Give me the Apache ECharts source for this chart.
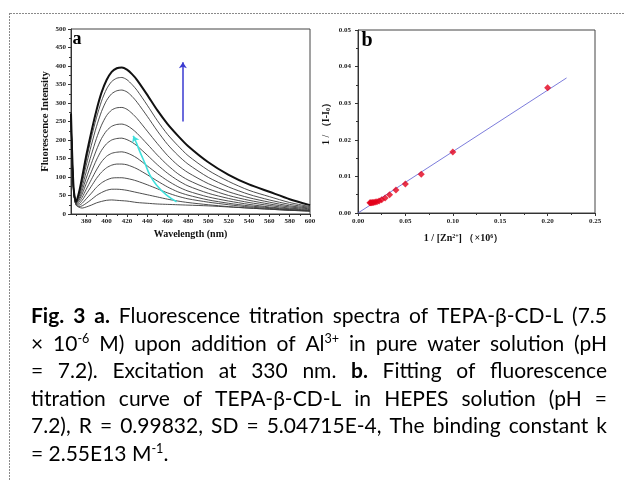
<!DOCTYPE html>
<html><head><meta charset="utf-8">
<script src="https://cdn.jsdelivr.net/npm/echarts@6/dist/echarts.min.js"></script>
<style>html,body{margin:0;padding:0;background:#fff}#c{width:624px;height:481px}</style>
</head><body><div id="c"></div>
<script>
// ---------- Panel a data (wavelength in nm, fluorescence intensity) ----------
const wavelength = [365,366,367,368,370,373,376,380,385,390,395,400,405,410,415,420,425,430,440,450,460,470,480,500,520,540,560,580,600];
const spectrum01 = [252,155,85,48,24,18,16,19,24,30,34,37,38,37,36,35,33,31,29,27,26,25,24,22,19,16,13,10,8];
const spectrum02 = [254,157,86,49,25,20,22,29,39,50,58,64,67,67,66,64,61,58,52,46,40,35,31,25,20,16,13,10,8];
const spectrum03 = [256,159,88,50,26,24,29,41,56,72,84,92,97,98,98,96,93,89,79,68,57,48,41,32,25,19,15,11,8];
const spectrum04 = [258,161,89,51,27,28,37,54,75,96,113,125,132,135,135,133,128,122,106,89,73,60,51,38,29,22,17,12,9];
const spectrum05 = [260,163,91,52,28,33,45,67,93,119,141,156,164,167,168,165,159,151,130,109,90,74,62,46,35,26,19,14,10];
const spectrum06 = [262,165,92,53,29,38,54,82,114,146,172,190,200,204,205,201,194,184,159,133,110,91,76,56,42,31,23,16,12];
const spectrum07 = [264,167,94,54,30,42,63,97,136,173,204,225,237,242,243,239,230,218,189,159,132,109,92,68,50,37,27,19,14];
const spectrum08 = [266,169,95,55,31,47,73,114,160,204,240,266,281,287,288,283,272,258,224,190,158,132,112,82,60,44,32,22,16];
const spectrum09 = [268,171,97,56,32,52,84,132,186,236,277,307,325,333,335,330,318,302,264,224,188,159,135,99,73,53,38,26,18];
const spectrum10 = [270,173,98,57,33,56,92,146,206,260,305,338,358,367,369,363,350,334,294,252,215,185,158,118,88,64,47,31,20];
const spectrum11 = [272,175,100,58,33,60,100,158,222,280,328,362,384,394,396,390,378,362,322,280,243,212,184,140,106,80,60,40,24];
const spectra = [spectrum01,spectrum02,spectrum03,spectrum04,spectrum05,spectrum06,spectrum07,spectrum08,spectrum09,spectrum10,spectrum11];
const waveTicks = [380,400,420,440,460,480,500,520,540,560,580,600];
const waveMinorTicks = [370,390,410,430,450,470,490,510,530,550,570,590];
// arrows (data coordinates)
const blueArrowX = [475, 475];
const blueArrowY = [250, 410];
const cyanX = [468.8, 459, 449.2, 442.6, 437.7, 432.8, 428.9];
const cyanY = [33, 51, 78, 105, 137, 168, 195];
const cyanHeadX = [428.9, 426.2];
const cyanHeadY = [195, 211];

// ---------- Panel b data ----------
const invConc = [0.0125,0.0133,0.0143,0.0154,0.0167,0.0182,0.0200,0.0222,0.0250,0.0286,0.0333,0.0400,0.0500,0.0667,0.1000,0.2000];
const invDeltaI = [0.0028,0.0028,0.0028,0.0029,0.0029,0.0030,0.0031,0.0033,0.0036,0.0041,0.0050,0.0063,0.0079,0.0106,0.0167,0.0342];
const fitX = [0, 0.22];
const fitY = [0, 0.0369];

// ---------- Caption ----------
const captionLines = [
  "**Fig. 3 a.** Fluorescence titration spectra of TEPA-β-CD-L (7.5",
  "× 10^{-6} M) upon addition of Al^{3+} in pure water solution (pH",
  "= 7.2). Excitation at 330 nm. **b.** Fitting of fluorescence",
  "titration curve of TEPA-β-CD-L in HEPES solution (pH =",
  "7.2), R = 0.99832, SD = 5.04715E-4, The binding constant k",
  "= 2.55E13 M^{-1}."
];

const SERIF = '"Liberation Serif","Times New Roman",serif';
const CAP_FONT = 'Lato';

const chart = echarts.init(document.getElementById('c'), null, {renderer: 'canvas'});

const tickLabel = {fontFamily: SERIF, fontWeight: 'bold', fontSize: 7, color: '#222'};
const axisLineStyle = {lineStyle: {color: '#333', width: 1}};

const series = [];
spectra.forEach((s, i) => {
  series.push({
    type: 'line', xAxisIndex: 0, yAxisIndex: 0,
    data: wavelength.map((w, j) => [w, s[j]]),
    showSymbol: false, symbol: 'none', smooth: 0.25,
    lineStyle: {color: i === spectra.length - 1 ? '#111' : '#3a3a3a', width: i === spectra.length - 1 ? 2 : 0.9},
    silent: true, z: 2
  });
});
series.push({
  type: 'lines', coordinateSystem: 'cartesian2d', xAxisIndex: 0, yAxisIndex: 0,
  data: [{coords: [[blueArrowX[0], blueArrowY[0]], [blueArrowX[1], blueArrowY[1]]]}],
  symbol: ['none', 'arrow'], symbolSize: [0, 6],
  lineStyle: {color: '#3a3ad0', width: 1.5, opacity: 1}, z: 3, silent: true
});
series.push({
  type: 'line', xAxisIndex: 0, yAxisIndex: 0,
  data: cyanX.map((x, j) => [x, cyanY[j]]),
  showSymbol: false, symbol: 'none', smooth: 0.4,
  lineStyle: {color: '#3fe0dc', width: 1.6}, z: 3, silent: true
});
series.push({
  type: 'lines', coordinateSystem: 'cartesian2d', xAxisIndex: 0, yAxisIndex: 0,
  data: [{coords: [[cyanHeadX[0], cyanHeadY[0]], [cyanHeadX[1], cyanHeadY[1]]]}],
  symbol: ['none', 'arrow'], symbolSize: [0, 6],
  lineStyle: {color: '#3fe0dc', width: 1.6, opacity: 1}, z: 3, silent: true
});
// panel b
series.push({
  type: 'line', xAxisIndex: 2, yAxisIndex: 1,
  data: fitX.map((x, j) => [x, fitY[j]]),
  showSymbol: false, symbol: 'none',
  lineStyle: {color: '#5a5ad2', width: 0.8}, z: 2, silent: true
});
series.push({
  type: 'scatter', xAxisIndex: 2, yAxisIndex: 1,
  data: invConc.map((x, j) => [x, invDeltaI[j]]),
  symbol: 'diamond', symbolSize: 7,
  itemStyle: {color: '#e3001a'}, z: 3, silent: true
});

// ---------- caption layout (justified) ----------
function parseLine(str) {
  const words = []; let cur = []; let bold = false; let i = 0; let buf = ''; let sup = false;
  const flush = () => { if (buf) { cur.push({t: buf, b: bold, sup: sup}); buf = ''; } };
  while (i < str.length) {
    if (str.startsWith('**', i)) { flush(); bold = !bold; i += 2; continue; }
    if (str.startsWith('^{', i)) { flush(); sup = true; i += 2; continue; }
    if (sup && str[i] === '}') { flush(); sup = false; i++; continue; }
    if (str[i] === ' ') { flush(); if (cur.length) words.push(cur); cur = []; i++; continue; }
    buf += str[i]; i++;
  }
  flush(); if (cur.length) words.push(cur);
  return words;
}
const cv = document.createElement('canvas').getContext('2d');
function fontOf(seg, f) { const sz = seg.sup ? f * 0.6 : f; return (seg.b ? 'bold ' : '') + sz.toFixed(2) + 'px ' + CAP_FONT; }
function segW(seg, f) { cv.font = fontOf(seg, f); return cv.measureText(seg.t).width; }
function wordW(w, f) { return w.reduce((a, s) => a + segW(s, f), 0); }
const parsed = captionLines.map(parseLine);
const X0 = 31, X1 = 607;
function natural(words, f) { cv.font = f + 'px ' + CAP_FONT; const sp = cv.measureText(' ').width; return words.reduce((a, w) => a + wordW(w, f), 0) + sp * (words.length - 1); }
const nat = Math.max(natural(parsed[0], 18), natural(parsed[1], 18));
const fs = Math.min(21, Math.max(14, 18 * (X1 - X0 - 6) / nat));

const graphics = [];
const BASE0 = 327, LSTEP = 27.5;
parsed.forEach((words, li) => {
  const baseline = BASE0 + li * LSTEP;
  const total = words.reduce((a, w) => a + wordW(w, fs), 0);
  cv.font = fs + 'px ' + CAP_FONT; const sp = cv.measureText(' ').width;
  const gap = (li < parsed.length - 1 && words.length > 1) ? (X1 - X0 - total) / (words.length - 1) : sp;
  let x = X0;
  words.forEach(w => {
    w.forEach(seg => {
      graphics.push({
        type: 'text', x: x, y: seg.sup ? baseline - fs * 0.42 : baseline, silent: true,
        style: {text: seg.t, font: fontOf(seg, fs), fill: '#000', textAlign: 'left', align: 'left', textVerticalAlign: 'bottom', verticalAlign: 'bottom'}
      });
      x += segW(seg, fs);
    });
    x += gap;
  });
});
// panel letters
graphics.push({type: 'text', x: 77, y: 39, silent: true, style: {text: 'a', font: 'bold 18px ' + SERIF, fill: '#000', textAlign: 'center', align: 'center', textVerticalAlign: 'middle', verticalAlign: 'middle'}});
graphics.push({type: 'text', x: 367, y: 41, silent: true, style: {text: 'b', font: 'bold 20px ' + SERIF, fill: '#000', textAlign: 'center', align: 'center', textVerticalAlign: 'middle', verticalAlign: 'middle'}});
// dashed page border
graphics.push({type: 'line', silent: true, shape: {x1: 10, y1: 13.5, x2: 624, y2: 13.5}, style: {stroke: '#8a8a8a', lineWidth: 1, lineDash: [2, 1]}});
graphics.push({type: 'line', silent: true, shape: {x1: 9.5, y1: 13, x2: 9.5, y2: 481}, style: {stroke: '#8a8a8a', lineWidth: 1, lineDash: [2, 1]}});

const option = {
  animation: false,
  backgroundColor: '#fff',
  grid: [
    {left: 71, top: 29, width: 239, height: 185, show: true, borderColor: '#444', borderWidth: 1, backgroundColor: 'transparent'},
    {left: 358, top: 30, width: 237, height: 183, show: true, borderColor: '#444', borderWidth: 1, backgroundColor: 'transparent'}
  ],
  xAxis: [
    {gridIndex: 0, type: 'value', min: 365, max: 600, position: 'bottom',
     axisLine: axisLineStyle,
     axisTick: {show: true, inside: false, length: 3, customValues: waveTicks, lineStyle: {color: '#333'}},
     axisLabel: {customValues: waveTicks, margin: 4, ...tickLabel},
     splitLine: {show: false},
     name: 'Wavelength (nm)', nameLocation: 'middle', nameGap: 15,
     nameTextStyle: {fontFamily: SERIF, fontWeight: 'bold', fontSize: 10, color: '#111'}},
    {gridIndex: 0, type: 'value', min: 365, max: 600, position: 'bottom',
     axisLine: {show: false},
     axisTick: {show: true, inside: false, length: 2, customValues: waveMinorTicks, lineStyle: {color: '#333'}},
     axisLabel: {show: false, customValues: waveMinorTicks},
     splitLine: {show: false}},
    {gridIndex: 1, type: 'value', min: 0, max: 0.25, interval: 0.05, position: 'bottom',
     axisLine: axisLineStyle,
     axisTick: {show: true, inside: false, length: 3, lineStyle: {color: '#333'}},
     minorTick: {show: true, splitNumber: 2, length: 2, lineStyle: {color: '#333'}},
     axisLabel: {margin: 5, formatter: v => v.toFixed(2), ...tickLabel},
     splitLine: {show: false},
     name: '1 / [Zn{sup|2+}] （×10{sup|6}）', nameLocation: 'middle', nameGap: 20,
     nameTextStyle: {fontFamily: SERIF, fontWeight: 'bold', fontSize: 10, color: '#111', padding: [0, 26, 0, 0],
       rich: {sup: {fontFamily: SERIF, fontWeight: 'bold', fontSize: 6, color: '#111', verticalAlign: 'top', padding: [0, 0, 5, 0]}}}}
  ],
  yAxis: [
    {gridIndex: 0, type: 'value', min: 0, max: 500, interval: 50,
     axisLine: axisLineStyle,
     axisTick: {show: true, inside: false, length: 3, lineStyle: {color: '#333'}},
     minorTick: {show: true, splitNumber: 2, length: 2, lineStyle: {color: '#333'}},
     axisLabel: {margin: 5, ...tickLabel},
     splitLine: {show: false},
     name: 'Fluorescence Intensity', nameLocation: 'middle', nameGap: 20, nameRotate: 90,
     nameTextStyle: {fontFamily: SERIF, fontWeight: 'bold', fontSize: 10.5, color: '#111'}},
    {gridIndex: 1, type: 'value', min: 0, max: 0.05, interval: 0.01,
     axisLine: axisLineStyle,
     axisTick: {show: true, inside: false, length: 3, lineStyle: {color: '#333'}},
     minorTick: {show: true, splitNumber: 2, length: 2, lineStyle: {color: '#333'}},
     axisLabel: {margin: 7, formatter: v => v.toFixed(2), ...tickLabel},
     splitLine: {show: false},
     name: '1 / （I-I{sub|0}）', nameLocation: 'middle', nameGap: 27, nameRotate: 90,
     nameTextStyle: {fontFamily: SERIF, fontWeight: 'bold', fontSize: 10, color: '#111',
       rich: {sub: {fontFamily: SERIF, fontWeight: 'bold', fontSize: 6, color: '#111', verticalAlign: 'bottom'}}}}
  ],
  series: series,
  graphic: {elements: graphics}
};
chart.setOption(option);
</script>
</body></html>
